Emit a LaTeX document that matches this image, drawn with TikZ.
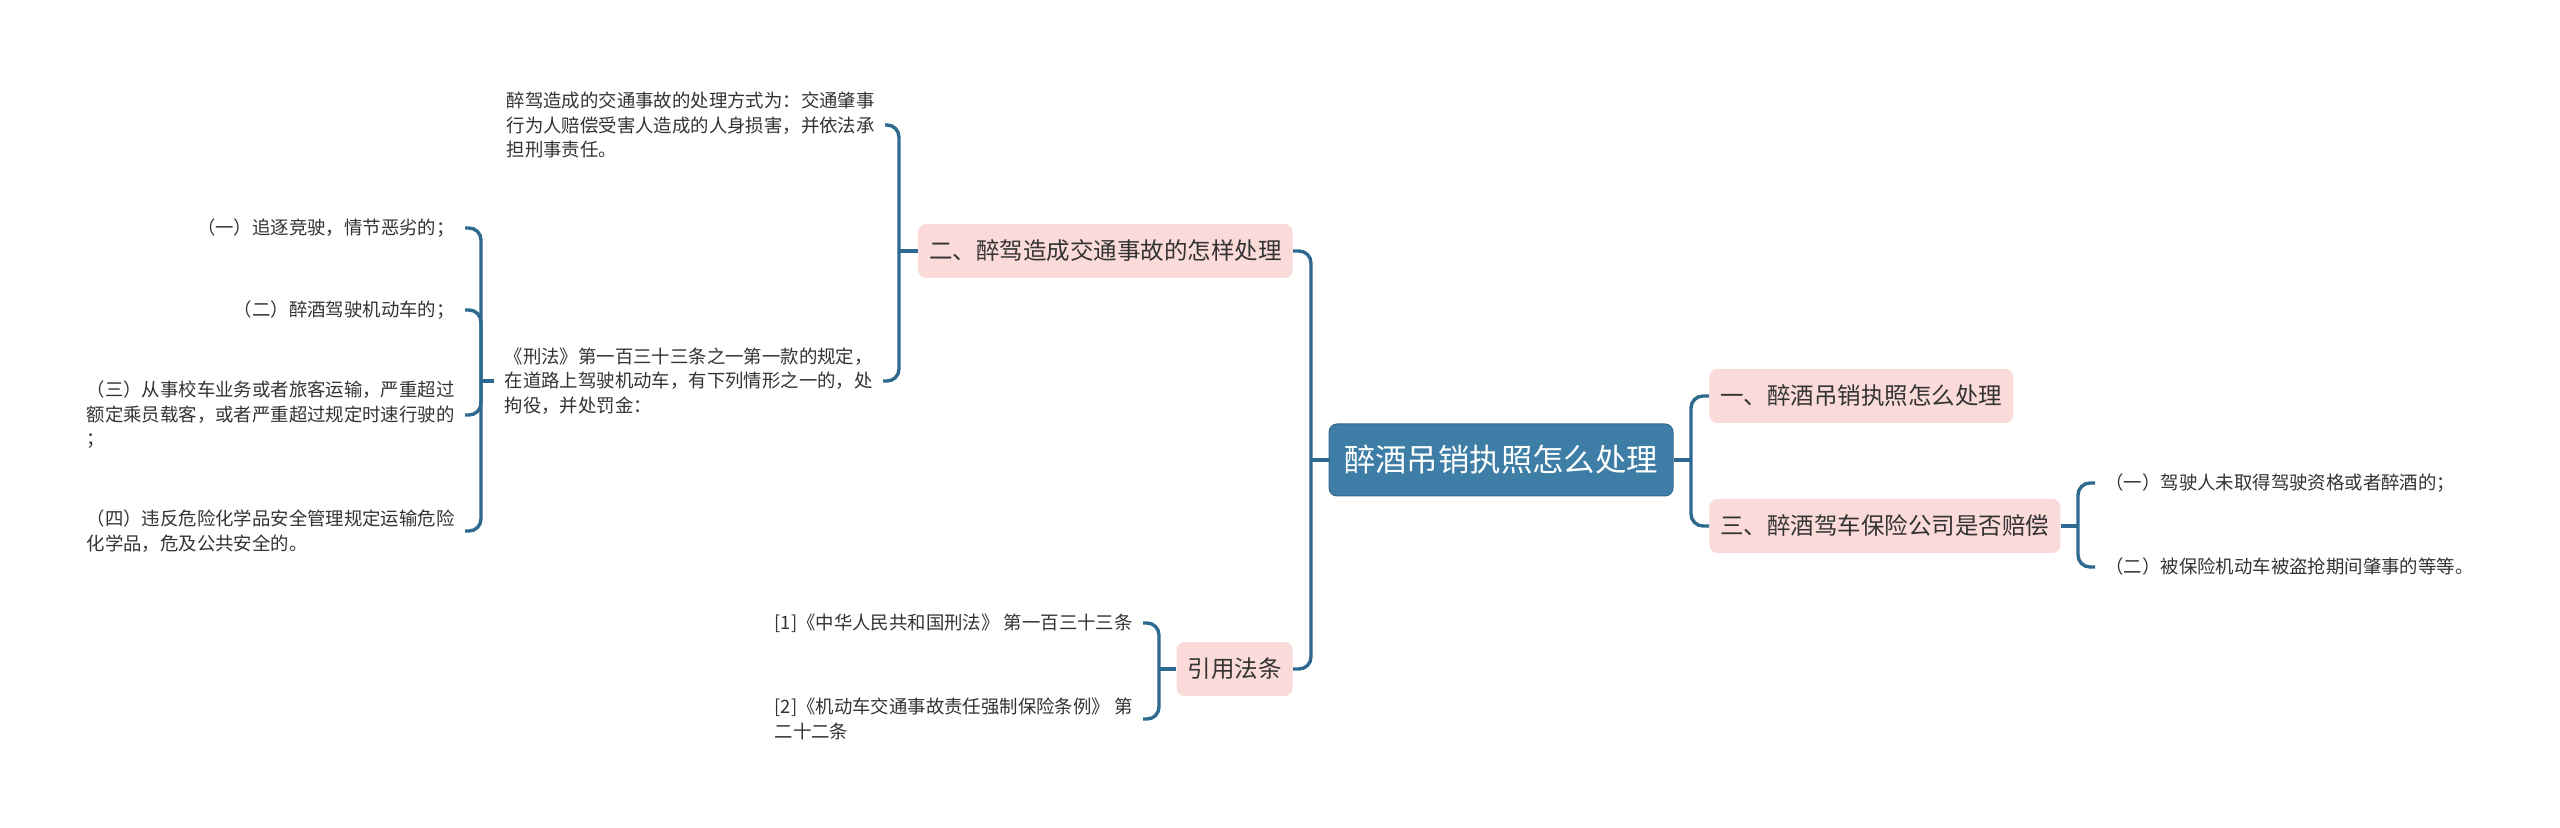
\documentclass[tikz,border=0pt]{standalone}
\usepackage{fontspec}
\setmainfont{Noto Sans CJK SC}
\definecolor{rootblue}{HTML}{3D7DA6}
\definecolor{connc}{HTML}{2E6A8F}
\definecolor{pinkfill}{HTML}{FADBDA}
\definecolor{txt}{HTML}{333333}
\begin{document}
\begin{tikzpicture}[x=0.5pt,y=-0.5pt,
 conn/.style={draw=connc, line width=1.7pt, rounded corners=6pt},
 rootbox/.style={fill=rootblue, draw=rootblue!85!black, line width=0.5pt, rounded corners=4pt, text=white, font=\fontsize{15.7}{18}\selectfont, minimum height=36pt, inner xsep=7.5pt, inner ysep=0pt},
 branch/.style={fill=pinkfill, rounded corners=4pt, text=txt, font=\fontsize{11.75}{14}\selectfont, minimum height=27pt, inner xsep=5.5pt, inner ysep=0pt},
 leaf/.style={text=txt, font=\fontsize{9.2}{12.3}\selectfont, inner xsep=5pt, inner ysep=1pt},
]
\fill[white] (0,0) rectangle (2560,828);
\useasboundingbox (0,0) rectangle (2560,828);

% main nodes
\node[rootbox] (root) at (1501,460) {醉酒吊销执照怎么处理};
\node[branch, anchor=west] (b1) at (1709,396) {一、醉酒吊销执照怎么处理};
\node[branch, anchor=west] (b3) at (1709,526) {三、醉酒驾车保险公司是否赔偿};
\node[branch, anchor=east] (b2) at (1293,251) {二、醉驾造成交通事故的怎样处理};
\node[branch, anchor=east] (b4) at (1293,669) {引用法条};

% leaves of b2
\node[leaf, anchor=east, align=left] (lt) at (885,125) {醉驾造成的交通事故的处理方式为：交通肇事\\行为人赔偿受害人造成的人身损害，并依法承\\担刑事责任。};
\node[leaf, anchor=east, align=left] (lx) at (883,381) {《刑法》第一百三十三条之一第一款的规定，\\在道路上驾驶机动车，有下列情形之一的，处\\拘役，并处罚金：};

% leaves of lx
\node[leaf, anchor=east] (k1) at (465,228) {（一）追逐竞驶，情节恶劣的；};
\node[leaf, anchor=east] (k2) at (465,310) {（二）醉酒驾驶机动车的；};
\node[leaf, anchor=east, align=left] (k3) at (465,415) {（三）从事校车业务或者旅客运输，严重超过\\额定乘员载客，或者严重超过规定时速行驶的\\；};
\node[leaf, anchor=east, align=left] (k4) at (465,531) {（四）违反危险化学品安全管理规定运输危险\\化学品，危及公共安全的。};

% leaves of b3
\node[leaf, anchor=west] (r1) at (2095,483) {（一）驾驶人未取得驾驶资格或者醉酒的；};
\node[leaf, anchor=west] (r2) at (2095,567) {（二）被保险机动车被盗抢期间肇事的等等。};

% leaves of b4
\node[leaf, anchor=east] (f1) at (1143,623) {[1]《中华人民共和国刑法》 第一百三十三条};
\node[leaf, anchor=east, align=left] (f2) at (1143,719) {[2]《机动车交通事故责任强制保险条例》 第\\二十二条};

% spine junctions
\coordinate (sL) at (1311,460);
\coordinate (sR) at (1691,460);
\coordinate (s2) at (899,251);
\coordinate (sx) at (481,381);
\coordinate (s3) at (2078,526);
\coordinate (s4) at (1159,669);

% connectors
\draw[conn] (root.west) -- (sL);
\draw[conn] (b2.east) -| (sL);
\draw[conn] (b4.east) -| (sL);
\draw[conn] (root.east) -- (sR);
\draw[conn] (b1.west) -| (sR);
\draw[conn] (b3.west) -| (sR);

\draw[conn] (b2.west) -- (s2);
\draw[conn] (lt.east) -| (s2);
\draw[conn] (lx.east) -| (s2);

\draw[conn] (lx.west) -- (sx);
\draw[conn] (k1.east) -| (sx);
\draw[conn] (k2.east) -| (sx);
\draw[conn] (k3.east) -| (sx);
\draw[conn] (k4.east) -| (sx);

\draw[conn] (b3.east) -- (s3);
\draw[conn] (r1.west) -| (s3);
\draw[conn] (r2.west) -| (s3);

\draw[conn] (b4.west) -- (s4);
\draw[conn] (f1.east) -| (s4);
\draw[conn] (f2.east) -| (s4);
\end{tikzpicture}
\end{document}
